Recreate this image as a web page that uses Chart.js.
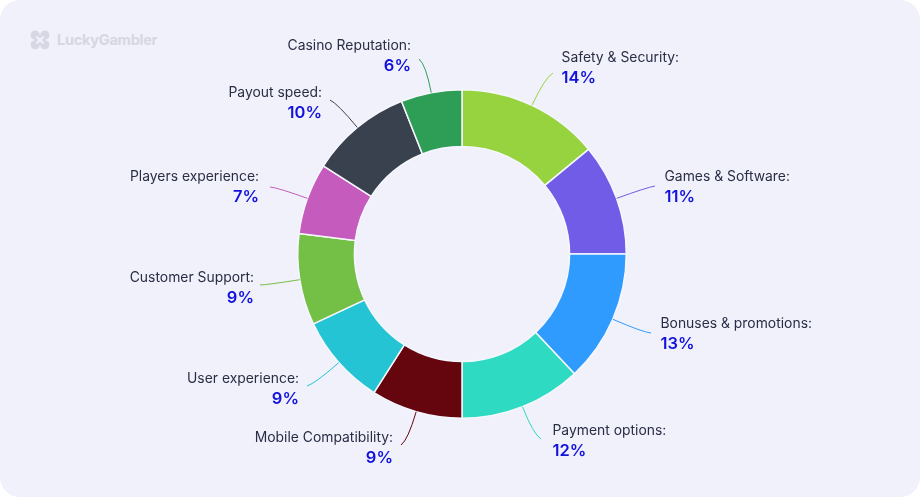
<!DOCTYPE html>
<html>
<head>
<meta charset="utf-8">
<title>Casino rating criteria</title>
<script src="https://cdn.jsdelivr.net/npm/chart.js@4"></script>
<style>
    html, body { margin: 0; padding: 0; background: #ffffff; }
    #card { position: relative; width: 920px; height: 497px; background: #f0f1fb; border-radius: 20px; overflow: hidden; }
    #logo { position: absolute; left: 30px; top: 30px; display: flex; align-items: center; gap: 7px; color: #d6d7e2; font: 700 14.6px Inter, sans-serif; letter-spacing: -0.3px; line-height: 20px; }
    #logo svg { display: block; }
    canvas { position: absolute; left: 0; top: 0; }
</style>
</head>
<body>
<div id="card">
    <div id="logo">
        <svg width="20" height="20" viewBox="0 0 20 20">
            <g fill="#d6d7e2">
                <circle cx="5.2" cy="5.2" r="4.6"/>
                <circle cx="14.8" cy="5.2" r="4.6"/>
                <circle cx="5.2" cy="14.8" r="4.6"/>
                <circle cx="14.8" cy="14.8" r="4.6"/>
                <rect x="5" y="5" width="10" height="10"/>
            </g>
            <path d="M6.5 6.5L13.5 13.5M13.5 6.5L6.5 13.5" stroke="#f0f1fb" stroke-width="2"/>
        </svg>
        <span>LuckyGambler</span>
    </div>
    <canvas id="chart" width="920" height="497"></canvas>
</div>
<script>
const categories = ["Safety & Security", "Games & Software", "Bonuses & promotions", "Payment options", "Mobile Compatibility", "User experience", "Customer Support", "Players experience", "Payout speed", "Casino Reputation"];
const shares = [14, 11, 13, 12, 9, 9, 9, 7, 10, 6];
const sliceColors = ["#97d33f", "#705ce6", "#2f9bff", "#2edbc2", "#65050e", "#25c4d4", "#74bf45", "#c45bbd", "#39414f", "#2e9e57"];

// where each label sits: text x, alignment, y of the name line, end of the leader line
const labelX = [561.5, 664.5, 660.5, 552.5, 393, 299, 254, 259, 322, 411];
const labelAlign = ["left", "left", "left", "left", "right", "right", "right", "right", "right", "right"];
const labelY = [58, 177, 324, 431, 438, 379, 278, 177, 93, 46];
const leaderEndX = [553, 655, 651, 541, 401, 307, 260, 270, 330, 419];
const leaderEndY = [73, 186, 333, 439, 445, 386, 285, 187, 100, 59];

const calloutPlugin = {
    id: "callouts",
    afterDatasetsDraw(chart) {
        const ctx = chart.ctx;
        chart.getDatasetMeta(0).data.forEach((arc, i) => {
            const p = arc.getProps(["x", "y", "startAngle", "endAngle", "outerRadius"]);
            const mid = (p.startAngle + p.endAngle) / 2;
            const sx = p.x + Math.cos(mid) * p.outerRadius;
            const sy = p.y + Math.sin(mid) * p.outerRadius;
            const dist = Math.hypot(leaderEndX[i] - sx, leaderEndY[i] - sy);
            const cx = sx + Math.cos(mid) * dist * 0.8;
            const cy = sy + Math.sin(mid) * dist * 0.8;

            ctx.save();
            ctx.beginPath();
            ctx.moveTo(sx, sy);
            ctx.quadraticCurveTo(cx, cy, leaderEndX[i], leaderEndY[i]);
            ctx.strokeStyle = sliceColors[i];
            ctx.lineWidth = 1;
            ctx.stroke();

            ctx.textAlign = labelAlign[i];
            ctx.textBaseline = "middle";
            ctx.fillStyle = "#2a2e45";
            ctx.font = "400 13.9px Inter, sans-serif";
            ctx.fillText(categories[i] + ":", labelX[i], labelY[i]);
            ctx.fillStyle = "#1212dc";
            ctx.font = "600 16.5px Inter, sans-serif";
            ctx.fillText(shares[i] + "%", labelX[i], labelY[i] + 20);
            ctx.restore();
        });
    }
};

new Chart(document.getElementById("chart"), {
    type: "doughnut",
    data: {
        labels: categories,
        datasets: [{
            data: shares,
            backgroundColor: sliceColors,
            borderColor: "#f6f7fd",
            borderWidth: 1.5
        }]
    },
    options: {
        responsive: false,
        animation: false,
        cutout: "65.5%",
        layout: { padding: { left: 297, right: 293, top: 89, bottom: 78 } },
        plugins: { legend: { display: false }, tooltip: { enabled: false } }
    },
    plugins: [calloutPlugin]
});
</script>
</body>
</html>
